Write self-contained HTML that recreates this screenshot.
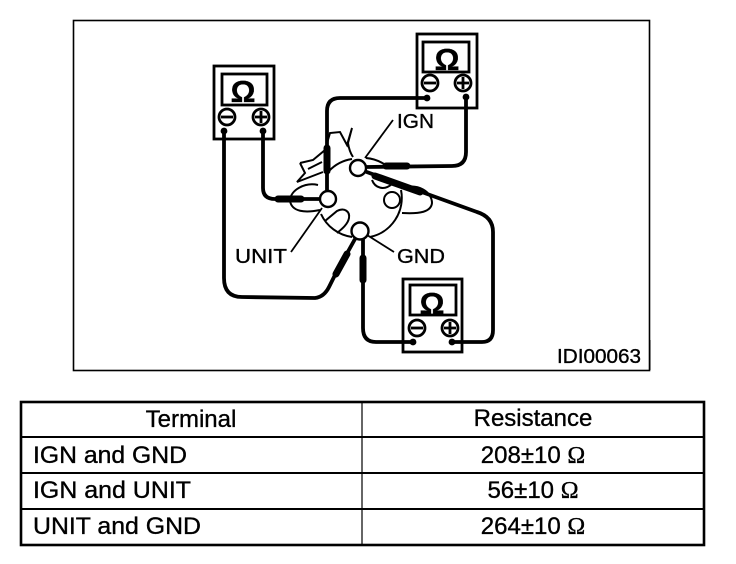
<!DOCTYPE html>
<html><head><meta charset="utf-8"><style>
html,body{margin:0;padding:0;background:#fff}
svg{display:block}
text{font-family:"Liberation Sans",sans-serif;fill:#000;stroke:#000;stroke-width:.35}
</style></head><body>
<svg width="736" height="564" viewBox="0 0 736 564" xmlns="http://www.w3.org/2000/svg">
<rect x="73.5" y="20.5" width="576" height="350" fill="none" stroke="#000" stroke-width="1.6"/>
<rect x="649" y="340" width="1.5" height="30" fill="#000"/>

<!-- dial and hand -->
<g fill="none" stroke="#000" stroke-width="2">
<path d="M329 171 A40 40 0 0 1 352 159"/>
<path d="M366 158 A40 40 0 0 1 384 164"/>
<path d="M401 190 A40 40 0 0 1 370 237"/>
<path d="M352 237 A40 40 0 0 1 321 214"/>
<circle cx="392" cy="200" r="8"/>
<path d="M372 180 C375 188 384 191 392 184"/>
<path d="M403 188 C418 183 432 192 432 203 C431 212 420 214 402 213"/>
<path d="M318 185 C305 182 290 190 290 201 C292 212 305 213 320 210"/>
<path d="M325 221 L337 211 C345 207 350 212 349 218 C348 224 342 229 337 233"/>
<path d="M300 163 L313 160 L325 150 L330 133 L340 132 L347 145 L352 128 L348 143 C349 150 351 154 353 157"/>
<path d="M300 163 L305 173 L297 182 L323 172"/>
<path d="M308 169 L322 162"/>
</g>

<!-- leaders -->
<g fill="none" stroke="#000" stroke-width="1.8">
<path d="M393 120 L365 158"/>
<path d="M322 208 L291 252"/>
<path d="M367 235 L394 252"/>
</g>

<!-- wires -->
<g fill="none" stroke="#000" stroke-width="3.8" stroke-linejoin="round">
<path d="M427 98 L340 98 Q327 98 327 111 L327 192"/>
<path d="M466 96 L466 152 Q466 166 452 166 L366 167"/>
<path d="M263 129 L263 188 Q263 199 275 199 L320 199"/>
<path d="M224 129 L224 278 Q224 297 242 297 L315 298 Q324 297 329 287 L335 275 L355 239"/>
<path d="M363 238 L363 328 Q363 342 376 342 L414 342"/>
<path d="M452 342 L482 342 Q493 342 493 330 L493 232 Q493 217 477 212 L430 195 L364 171"/>
</g>
<!-- probes -->
<g fill="none" stroke="#000" stroke-width="7" stroke-linecap="round">
<path d="M327 148 L327 171"/>
<path d="M386 166 L407 166"/>
<path d="M278 199 L301 199"/>
<path d="M336 274 L347 254"/>
<path d="M363 258 L363 280"/>
<path d="M375 176 L420 192"/>
</g>

<!-- terminals -->
<g fill="#fff" stroke="#000" stroke-width="2.4">
<circle cx="358" cy="168" r="8"/>
<circle cx="328" cy="199" r="8"/>
<circle cx="360" cy="231" r="8.5"/>
</g>

<!-- meters -->
<g fill="none" stroke="#000" stroke-width="2.8">
<rect x="214" y="66" width="60" height="73"/>
<rect x="222" y="74" width="45" height="31"/>
<circle cx="227" cy="117" r="8"/>
<path d="M221 117 H233"/>
<circle cx="261" cy="117" r="8"/>
<path d="M255 117 H267 M261 111 V123"/>

<rect x="417" y="34" width="60" height="74"/>
<rect x="423" y="42" width="46" height="30"/>
<circle cx="430" cy="83" r="8"/>
<path d="M424 83 H436"/>
<circle cx="463" cy="83" r="8"/>
<path d="M457 83 H469 M463 77 V89"/>

<rect x="403" y="279" width="59" height="73"/>
<rect x="410" y="285" width="46" height="30"/>
<circle cx="417" cy="328" r="8"/>
<path d="M411 328 H423"/>
<circle cx="450" cy="328" r="8"/>
<path d="M444 328 H456 M450 322 V334"/>
</g>
<g fill="#000">
<circle cx="224" cy="131" r="3.4"/><circle cx="263" cy="131" r="3.4"/>
<circle cx="427" cy="98" r="3.4"/><circle cx="466" cy="97" r="3.4"/>
<circle cx="413" cy="342" r="3.4"/><circle cx="452" cy="342" r="3.4"/>
</g>
<g font-size="31" font-weight="bold" text-anchor="middle">
<text x="243" y="102">Ω</text>
<text x="447" y="70">Ω</text>
<text x="432" y="314">Ω</text>
</g>

<!-- labels -->
<g font-size="20">
<text x="397" y="128" textLength="37" lengthAdjust="spacingAndGlyphs">IGN</text>
<text x="235" y="263" textLength="52" lengthAdjust="spacingAndGlyphs">UNIT</text>
<text x="397" y="263" textLength="48" lengthAdjust="spacingAndGlyphs">GND</text>
</g>
<text x="557" y="363" font-size="20" textLength="84" lengthAdjust="spacingAndGlyphs">IDI00063</text>

<!-- table -->
<rect x="21" y="402" width="683" height="143" fill="none" stroke="#000" stroke-width="2.6"/>
<g stroke="#000" fill="none">
<path d="M21 437 H704 M21 473 H704 M21 509 H704" stroke-width="2"/>
<path d="M362 402 V545" stroke-width="1.2"/>
</g>
<g font-size="24">
<text x="33" y="463" textLength="154" lengthAdjust="spacingAndGlyphs">IGN and GND</text>
<text x="33" y="498" textLength="158" lengthAdjust="spacingAndGlyphs">IGN and UNIT</text>
<text x="33" y="534" textLength="168" lengthAdjust="spacingAndGlyphs">UNIT and GND</text>
</g>
<g font-size="24" text-anchor="middle">
<text x="191" y="427">Terminal</text>
<text x="533" y="426">Resistance</text>
<text x="533" y="463">208±10 <tspan style="font-family:'Liberation Serif',serif">Ω</tspan></text>
<text x="533" y="498">56±10 <tspan style="font-family:'Liberation Serif',serif">Ω</tspan></text>
<text x="533" y="534">264±10 <tspan style="font-family:'Liberation Serif',serif">Ω</tspan></text>
</g>
</svg>
</body></html>
